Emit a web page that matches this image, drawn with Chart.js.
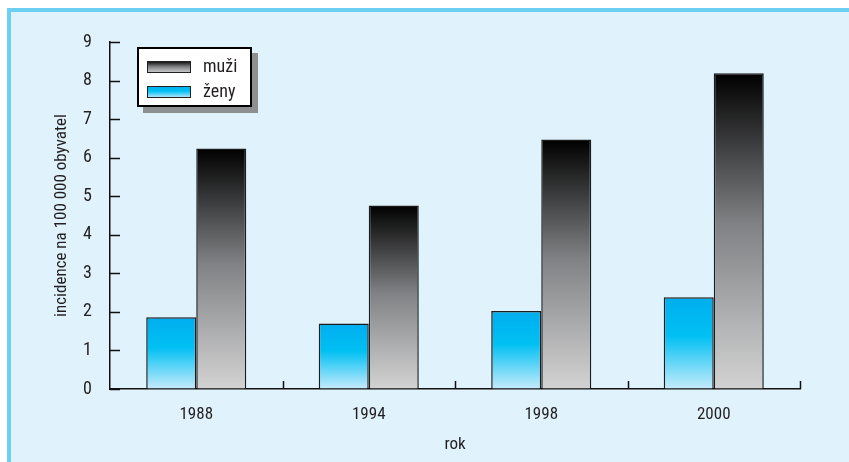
<!DOCTYPE html>
<html><head><meta charset="utf-8">
<script src="https://cdn.jsdelivr.net/npm/chart.js@4/dist/chart.umd.min.js"></script>
<style>html,body{margin:0;padding:0;background:#fff}#wrap{width:849px;height:462px;position:relative}</style>
</head><body><div id="wrap"><canvas id="c" width="849" height="462"></canvas></div>
<script>
const categories = ['1988', '1994', '1998', '2000'];
const zenyValues = [1.86, 1.70, 2.02, 2.38];
const muziValues = [6.24, 4.76, 6.47, 8.19];
const yMin = 0, yMax = 9, yStep = 1;
const seriesNames = ['muži', 'ženy'];
const yTitle = 'incidence na 100 000 obyvatel';
const xTitle = 'rok';

const FONT = '"Roboto Condensed", "DejaVu Sans Condensed", sans-serif';
const FS = 17;
const TXT = '#231f20';
const zenyStops = [[0, '#00aeef'], [0.42, '#00c0f3'], [1, '#c6ebfb']];
const muziStops = [[0, '#000000'], [0.48, '#818285'], [1, '#d3d3d3']];

function barGrad(ctx, stops) {
  const chart = ctx.chart;
  const area = chart.chartArea;
  if (!area || ctx.type !== 'data') return stops[1][1];
  const y = chart.scales.y;
  const top = y.getPixelForValue(ctx.raw);
  const bot = y.getPixelForValue(0);
  const g = chart.ctx.createLinearGradient(0, top, 0, bot);
  stops.forEach(s => g.addColorStop(s[0], s[1]));
  return g;
}

const framePlugin = {
  id: 'frame',
  beforeDraw(chart) {
    const c = chart.ctx, W = chart.width, H = chart.height;
    c.save();
    c.fillStyle = '#ffffff'; c.fillRect(0, 0, W, H);
    c.fillStyle = '#e0f2fc'; c.fillRect(7, 8, W - 7, H - 8);
    c.fillStyle = '#6dcff4';
    c.fillRect(7, 8, W - 7, 4);
    c.fillRect(7, 8, 4, H - 8);
    c.restore();
  }
};

const ticksPlugin = {
  id: 'innerTicks',
  afterDraw(chart) {
    const c = chart.ctx, a = chart.chartArea;
    const ys = chart.scales.y, xs = chart.scales.x;
    c.save();
    c.strokeStyle = '#111'; c.lineWidth = 1.5;
    c.beginPath();
    ys.ticks.forEach(t => {
      const y = Math.round(ys.getPixelForValue(t.value)) + 0.5;
      c.moveTo(a.left, y); c.lineTo(a.left + 10, y);
    });
    for (let i = 0; i < categories.length; i++) {
      const x = Math.round(xs.getPixelForValue(i + 0.5)) + 0.5;
      c.moveTo(x, a.bottom); c.lineTo(x, a.bottom - 8);
    }
    c.stroke();

    // legend
    const lx = a.left + 27, ly = a.top + 5, lw = 115, lh = 60;
    c.fillStyle = '#8e8f91';
    c.fillRect(lx + 6, ly + 6, lw, lh);
    c.fillStyle = '#ffffff';
    c.fillRect(lx, ly, lw, lh);
    c.strokeStyle = '#000'; c.lineWidth = 2;
    c.strokeRect(lx + 1, ly + 1, lw - 2, lh - 2);
    const items = [[seriesNames[0], muziStops], [seriesNames[1], zenyStops]];
    items.forEach((it, i) => {
      const sx = lx + 10, sy = ly + 14 + i * 25, sw = 44, sh = 12;
      const g = c.createLinearGradient(0, sy, 0, sy + sh);
      it[1].forEach(s => g.addColorStop(s[0], s[1]));
      c.fillStyle = g;
      c.fillRect(sx, sy, sw, sh);
      c.strokeStyle = '#222'; c.lineWidth = 1;
      c.strokeRect(sx + 0.5, sy + 0.5, sw - 1, sh - 1);
      c.fillStyle = TXT;
      c.font = '18px ' + FONT;
      c.textBaseline = 'middle';
      c.textAlign = 'left';
      c.fillText(it[0], lx + 66, sy + sh / 2);
    });
    c.restore();
  }
};

new Chart(document.getElementById('c'), {
  type: 'bar',
  data: {
    labels: categories,
    datasets: [
      {
        label: seriesNames[1], data: zenyValues,
        backgroundColor: ctx => barGrad(ctx, zenyStops),
        borderColor: '#1c1c1c', borderWidth: 1.5,
        categoryPercentage: 0.58, barPercentage: 1.0
      },
      {
        label: seriesNames[0], data: muziValues,
        backgroundColor: ctx => barGrad(ctx, muziStops),
        borderColor: '#1c1c1c', borderWidth: 1.5,
        categoryPercentage: 0.58, barPercentage: 1.0
      }
    ]
  },
  options: {
    responsive: false,
    animation: false,
    layout: { padding: { left: 0, right: 49, top: 42, bottom: 0 } },
    plugins: { legend: { display: false }, tooltip: { enabled: false } },
    scales: {
      x: {
        grid: { display: true, drawOnChartArea: false, drawTicks: false },
        border: { display: true, color: '#111', width: 1.5 },
        ticks: { font: { family: FONT, size: FS }, color: TXT, padding: 16, maxRotation: 0 },
        title: { display: true, text: xTitle, font: { family: FONT, size: FS }, color: TXT, padding: { top: 0, bottom: 7 } },
        afterFit: s => { s.height = 73; }
      },
      y: {
        min: yMin, max: yMax,
        grid: { display: true, drawOnChartArea: false, drawTicks: false },
        border: { display: true, color: '#111', width: 1.5 },
        ticks: { stepSize: yStep, font: { family: FONT, size: FS + 1 }, color: TXT, padding: 18 },
        title: { display: true, text: yTitle, font: { family: FONT, size: FS }, color: TXT, padding: { top: 52, bottom: 0 } },
        afterFit: s => { s.width = 110; }
      }
    }
  },
  plugins: [framePlugin, ticksPlugin]
});
</script></body></html>
